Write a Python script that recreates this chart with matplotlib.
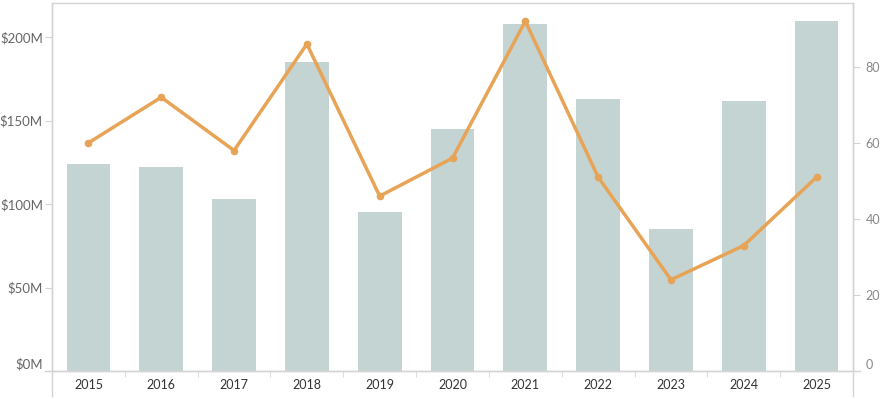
import matplotlib
matplotlib.use('Agg')
import matplotlib.pyplot as plt
from matplotlib.lines import Line2D
import numpy as np

# data
years = ['2015', '2016', '2017', '2018', '2019', '2020', '2021', '2022', '2023', '2024', '2025']
amount_m = [124, 122, 103, 185, 95, 145, 208, 163, 85, 162, 210]   # $M, bars
count = [60, 72, 58, 86, 46, 56, 92, 51, 24, 33, 51]               # right axis, line
left_ticks = [0, 50, 100, 150, 200]
left_labels = ['$0M', '$50M', '$100M', '$150M', '$200M']
right_ticks = [0, 20, 40, 60, 80]

bar_color = '#c3d4d2'
line_color = '#e8a456'
axis_color = '#d4d4d4'

plt.rcParams['font.family'] = ['Lato', 'DejaVu Sans']

W, H = 889, 399
fig = plt.figure(figsize=(W / 100, H / 100), dpi=100)
x0, x1, y0, y1 = 52, 853, 371, 3
ax = fig.add_axes([x0 / W, (H - y0) / H, (x1 - x0) / W, (y0 - y1) / H])

x = np.arange(len(years))
ax.bar(x, amount_m, width=0.6, color=bar_color, zorder=1)
ax.set_xlim(-0.5, len(years) - 0.5)
ax.set_ylim(0, 220.5)
ax.set_yticks(left_ticks)
ax.set_yticklabels(left_labels)
ax.tick_params(axis='y', length=5, color=axis_color, labelcolor='#666666', labelsize=9.5, pad=1.5)
ax.get_yticklabels()[0].set_va('bottom')

ax.set_xticks(x)
ax.set_xticklabels(years)
ax.set_xticks(np.arange(len(years) + 1) - 0.5, minor=True)
ax.tick_params(axis='x', which='major', length=0, labelcolor='#333333', labelsize=9, pad=6)
ax.tick_params(axis='x', which='minor', length=4, color=axis_color)

for s in ['left', 'right', 'top', 'bottom']:
    ax.spines[s].set_color(axis_color)
    ax.spines[s].set_linewidth(1)

ax2 = ax.twinx()
ax2.plot(x, count, color=line_color, lw=2.5, marker='o', ms=4.5, zorder=3)
ax2.set_ylim(0, 96.8)
ax2.set_yticks(right_ticks)
ax2.tick_params(axis='y', length=5, color=axis_color, labelcolor='#888888', labelsize=9, pad=4)
ax2.get_yticklabels()[0].set_va('bottom')
for s in ['left', 'right', 'top', 'bottom']:
    ax2.spines[s].set_visible(False)

# vertical borders run below the x axis, x axis line runs past the borders
fig.add_artist(Line2D([x0 / W, x0 / W], [(H - 396) / H, (H - y1) / H], color=axis_color, lw=1))
fig.add_artist(Line2D([x1 / W, x1 / W], [(H - 396) / H, (H - y1) / H], color=axis_color, lw=1))
fig.add_artist(Line2D([45 / W, 860 / W], [(H - y0) / H, (H - y0) / H], color=axis_color, lw=1))

fig.savefig('out.png', dpi=100)
